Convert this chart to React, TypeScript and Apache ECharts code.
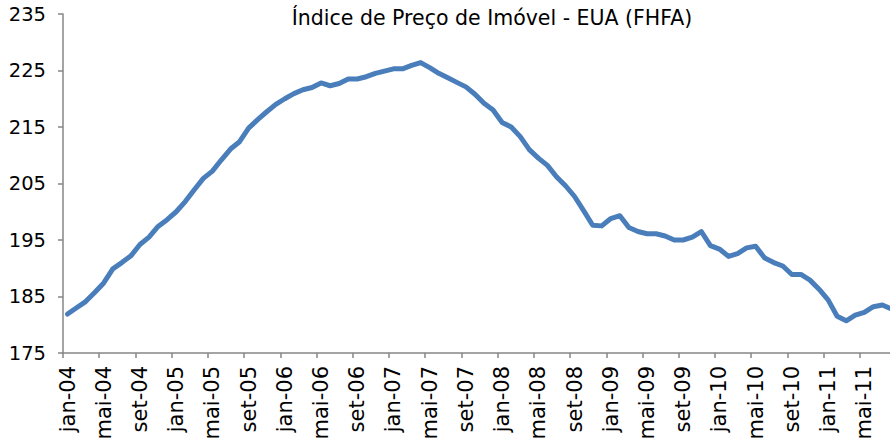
import React, { useEffect, useRef } from "react";
import * as echarts from "echarts";

const monthNames = ["jan", "fev", "mar", "abr", "mai", "jun", "jul", "ago", "set", "out", "nov", "dez"];
const years = ["04", "05", "06", "07", "08", "09", "10", "11"];
const lastMonthOfLastYear = 8; // data runs through ago-11

const categories: string[] = [];
years.forEach((y, yi) => {
  const n = yi === years.length - 1 ? lastMonthOfLastYear : 12;
  for (let m = 0; m < n; m++) categories.push(`${monthNames[m]}-${y}`);
});

const values2004 = [181.9, 183.0, 184.1, 185.7, 187.4, 189.9, 191.0, 192.2, 194.2, 195.5, 197.4, 198.6];
const values2005 = [200.0, 201.8, 203.9, 205.9, 207.2, 209.2, 211.1, 212.4, 214.8, 216.3, 217.7, 219.0];
const values2006 = [220.0, 220.9, 221.6, 222.0, 222.8, 222.3, 222.7, 223.5, 223.5, 223.9, 224.5, 224.9];
const values2007 = [225.3, 225.3, 225.9, 226.4, 225.5, 224.5, 223.7, 222.9, 222.1, 220.8, 219.2, 218.0];
const values2008 = [215.8, 215.0, 213.3, 211.0, 209.5, 208.2, 206.2, 204.6, 202.7, 200.2, 197.6, 197.5];
const values2009 = [198.8, 199.3, 197.2, 196.5, 196.1, 196.1, 195.7, 195.0, 195.0, 195.5, 196.5, 194.0];
const values2010 = [193.4, 192.1, 192.6, 193.6, 193.9, 191.8, 191.0, 190.4, 188.9, 188.9, 187.9, 186.3];
const values2011 = [184.4, 181.5, 180.7, 181.7, 182.2, 183.2, 183.5, 182.8];

const values = [
  ...values2004, ...values2005, ...values2006, ...values2007,
  ...values2008, ...values2009, ...values2010, ...values2011,
];

const yTicks = { min: 175, max: 235, interval: 10 };
const titleText = "Índice de Preço de Imóvel - EUA (FHFA)";

const FONT = "'DejaVu Sans', 'Liberation Sans', Arial, sans-serif";
const AXIS_COLOR = "#868686";

export default function App() {
  const ref = useRef<HTMLDivElement>(null);
  useEffect(() => {
    if (!ref.current) return;
    const chart = echarts.init(ref.current, undefined, { renderer: "svg" });
    chart.setOption({
      animation: false,
      backgroundColor: "#ffffff",
      textStyle: { fontFamily: FONT },
      graphic: [
        {
          type: "text",
          x: 492,
          y: 18,
          style: {
            text: titleText,
            fontFamily: FONT,
            fontSize: 20.5,
            fill: "#000000",
            textAlign: "center",
            textVerticalAlign: "middle",
          },
        },
      ],
      grid: {
        left: 63,
        top: 14,
        width: 833,
        height: 339,
        outerBoundsMode: "none",
        containLabel: false,
      },
      xAxis: {
        type: "category",
        data: categories,
        boundaryGap: true,
        axisLine: { show: true, lineStyle: { color: AXIS_COLOR, width: 1.5 } },
        axisTick: { show: true, interval: 3, length: 5, lineStyle: { color: AXIS_COLOR, width: 1.5 } },
        axisLabel: {
          interval: 3,
          rotate: 90,
          fontSize: 21,
          color: "#000000",
          fontFamily: FONT,
          margin: 13,
        },
        splitLine: { show: false },
      },
      yAxis: {
        type: "value",
        min: yTicks.min,
        max: yTicks.max,
        interval: yTicks.interval,
        axisLine: { show: true, lineStyle: { color: AXIS_COLOR, width: 1.5 } },
        axisTick: { show: true, length: 5, lineStyle: { color: AXIS_COLOR, width: 1.5 } },
        axisLabel: { fontSize: 19.5, color: "#000000", fontFamily: FONT, margin: 17 },
        splitLine: { show: false },
      },
      series: [
        {
          type: "line",
          data: values,
          symbol: "none",
          lineStyle: { color: "#4a7ebb", width: 5, cap: "round", join: "round" },
          itemStyle: { color: "#4a7ebb" },
        },
      ],
    });
    return () => chart.dispose();
  }, []);
  return (
    <div
      ref={ref}
      style={{ position: "fixed", left: 0, top: 0, width: 910, height: 439, background: "#fff" }}
    />
  );
}
